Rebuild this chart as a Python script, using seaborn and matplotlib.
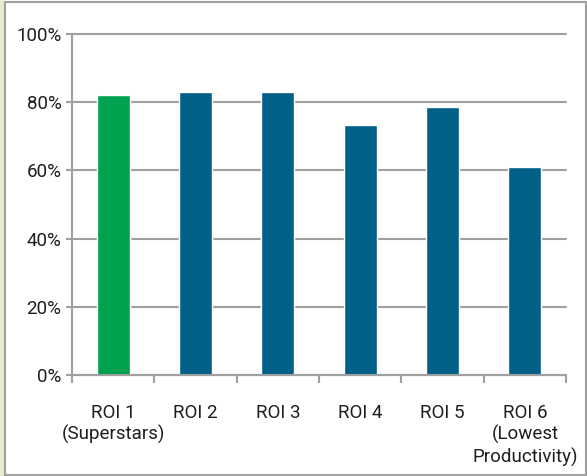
import matplotlib
matplotlib.use("Agg")
import matplotlib.pyplot as plt
from matplotlib.patches import Rectangle
from matplotlib.ticker import FuncFormatter, MultipleLocator
import seaborn as sns

categories = ["ROI 1\n(Superstars)", "ROI 2", "ROI 3", "ROI 4", "ROI 5",
              "ROI 6\n(Lowest\nProductivity)"]
values = [82.1, 83.0, 83.0, 73.3, 78.6, 61.0]
bar_colors = ["#00A14F", "#006088", "#006088", "#006088", "#006088", "#006088"]

sns.set_style("white")
plt.rcParams["font.family"] = ["Roboto", "DejaVu Sans"]

W, H = 587, 476
fig = plt.figure(figsize=(W / 100, H / 100), dpi=100)
ax = fig.add_axes([72 / W, (H - 375) / H, 494 / W, 341 / H])

sns.barplot(x=categories, y=values, hue=categories, palette=bar_colors,
            legend=False, width=0.4, saturation=1, ax=ax, zorder=3)

grid_c = "#a0a0a0"
text_c = "#1e1e1e"
fs = 13.5
ax.set_ylim(0, 100)
ax.set_xlim(-0.5, len(categories) - 0.5)
ax.yaxis.set_major_locator(MultipleLocator(20))
ax.yaxis.set_major_formatter(FuncFormatter(lambda v, p: f"{v:.0f}%"))
ax.yaxis.grid(True, color=grid_c, linewidth=1.5)
for gl in ax.get_ygridlines():
    gl.set_clip_on(False)
ax.set_axisbelow(True)

for side in ("top", "right"):
    ax.spines[side].set_visible(False)
for side in ("left", "bottom"):
    ax.spines[side].set_color(grid_c)
    ax.spines[side].set_linewidth(1.5)
    ax.spines[side].set_zorder(4)

# bottom ticks sit between categories
ax.set_xticks(range(len(categories)))
ax.set_xticklabels(categories)
ax.set_xticks([i - 0.5 for i in range(len(categories) + 1)], minor=True)
ax.tick_params(axis="x", which="major", length=0, pad=21, labelsize=fs,
               labelcolor=text_c)
ax.tick_params(axis="x", which="minor", length=6, width=1.5, color=grid_c,
               direction="out", bottom=True)
ax.tick_params(axis="y", length=4.5, width=1.5, color=grid_c, left=True,
               labelsize=fs, labelcolor=text_c, pad=3)
for lbl in ax.get_xticklabels():
    lbl.set_linespacing(1.2)
    lbl.set_verticalalignment("top")
ax.set_xlabel("")
ax.set_ylabel("")

# figure frame
fig.patches.append(Rectangle((0, 0), 4 / W, 1, transform=fig.transFigure,
                             facecolor="#ecebc9", edgecolor="none", zorder=0))
fig.patches.append(Rectangle((4.5 / W, 1.5 / H), (W - 6) / W, (H - 3) / H,
                             transform=fig.transFigure, facecolor="none",
                             edgecolor="#a0a0a0", linewidth=1.5, zorder=5))

fig.savefig("out.png", dpi=100)
